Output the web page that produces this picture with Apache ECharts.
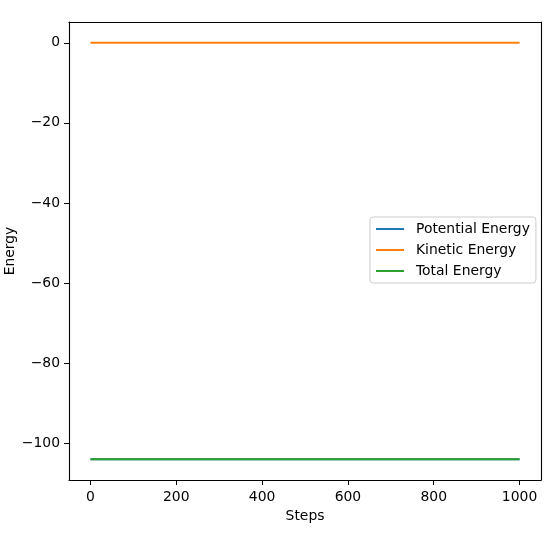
<!DOCTYPE html>
<html>
<head>
<meta charset="utf-8">
<script src="https://cdn.jsdelivr.net/npm/echarts@6/dist/echarts.min.js"></script>
<style>html,body{margin:0;padding:0;background:#fff}#c{width:554px;height:533px}</style>
</head>
<body>
<div id="c"></div>
<script>
var steps = [0, 100, 200, 300, 400, 500, 600, 700, 800, 900, 1000];
var potentialEnergy = [-104, -104, -104, -104, -104, -104, -104, -104, -104, -104, -104];
var kineticEnergy = [0, 0, 0, 0, 0, 0, 0, 0, 0, 0, 0];
var totalEnergy = [-104, -104, -104, -104, -104, -104, -104, -104, -104, -104, -104];
var xTicks = [0, 200, 400, 600, 800, 1000];
var yTicks = [-100, -80, -60, -40, -20, 0];

function pairs(ys) { return steps.map(function (s, i) { return [s, ys[i]]; }); }
var font = 'DejaVu Sans';
var fs = 13.9;
function fmt(v) { return String(v).replace('-', '\u2212'); }
var frame = { show: true, onZero: false, lineStyle: { color: '#000', width: 1.1 } };

var chart = echarts.init(document.getElementById('c'), null, { renderer: 'canvas' });
chart.setOption({
  animation: false,
  grid: { left: 69, right: 13, top: 22, bottom: 53, outerBoundsMode: 'none', containLabel: false, show: false },
  legend: {
    orient: 'vertical', left: 370, top: 217,
    padding: [5, 6, 5, 5], itemGap: 7, itemWidth: 28, itemHeight: 14,
    borderColor: '#cccccc', borderWidth: 1, borderRadius: 3, backgroundColor: 'rgba(255,255,255,0.8)',
    itemStyle: { opacity: 0 },
    lineStyle: { width: 2 },
    textStyle: { fontFamily: font, fontSize: fs, color: '#000', padding: [0, 0, 0, 7] },
    data: ['Potential Energy', 'Kinetic Energy', 'Total Energy']
  },
  xAxis: [{
    type: 'value', min: -50, max: 1050, position: 'bottom',
    name: 'Steps', nameLocation: 'middle', nameGap: 29, nameMoveOverlap: false,
    nameTextStyle: { fontFamily: font, fontSize: fs, color: '#000' },
    axisLine: frame,
    axisTick: { show: true, inside: false, length: 5, lineStyle: { color: '#000', width: 1 }, customValues: xTicks },
    axisLabel: { fontFamily: font, fontSize: fs, color: '#000', margin: 10, customValues: xTicks, formatter: fmt },
    splitLine: { show: false }
  }, {
    type: 'value', min: -50, max: 1050, position: 'top',
    axisLine: frame,
    axisTick: { show: false }, axisLabel: { show: false }, splitLine: { show: false }
  }],
  yAxis: [{
    type: 'value', min: -109.2, max: 5.2, position: 'left',
    name: 'Energy', nameLocation: 'middle', nameGap: 52, nameMoveOverlap: false,
    nameTextStyle: { fontFamily: font, fontSize: fs, color: '#000' },
    axisLine: frame,
    axisTick: { show: true, inside: false, length: 5, lineStyle: { color: '#000', width: 1 }, customValues: yTicks },
    axisLabel: { fontFamily: font, fontSize: fs, color: '#000', margin: 9, customValues: yTicks, formatter: fmt },
    splitLine: { show: false }
  }, {
    type: 'value', min: -109.2, max: 5.2, position: 'right',
    axisLine: frame,
    axisTick: { show: false }, axisLabel: { show: false }, splitLine: { show: false }
  }],
  series: [
    { name: 'Potential Energy', type: 'line', data: pairs(potentialEnergy), symbol: 'none', lineStyle: { color: '#1f77b4', width: 2 }, itemStyle: { color: '#1f77b4' } },
    { name: 'Kinetic Energy', type: 'line', data: pairs(kineticEnergy), symbol: 'none', lineStyle: { color: '#ff7f0e', width: 2 }, itemStyle: { color: '#ff7f0e' } },
    { name: 'Total Energy', type: 'line', data: pairs(totalEnergy), symbol: 'none', lineStyle: { color: '#2ca02c', width: 2 }, itemStyle: { color: '#2ca02c' } }
  ]
});
</script>
</body>
</html>
